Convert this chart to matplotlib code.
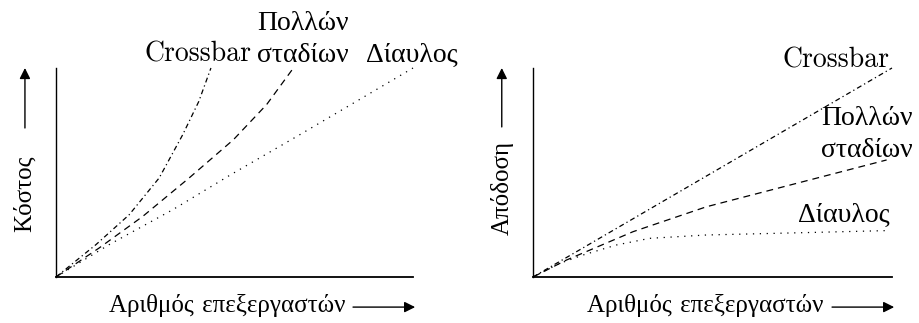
import matplotlib
matplotlib.use('Agg')
import matplotlib.pyplot as plt

plt.rcParams['font.family'] = ['cmr10', 'Liberation Serif']
plt.rcParams['axes.unicode_minus'] = False

# (axes run 0..1 in both directions)
cost_x = {
    'Crossbar': [0, 0.112, 0.205, 0.289, 0.355, 0.40, 0.434],
    'Πολλών\nσταδίων': [0, 0.121, 0.243, 0.373, 0.497, 0.590, 0.665],
    'Δίαυλος': [0, 0.149, 0.327, 0.490, 0.683, 1.0],
}
cost_y = {
    'Crossbar': [0, 0.155, 0.298, 0.474, 0.681, 0.84, 1.0],
    'Πολλών\nσταδίων': [0, 0.139, 0.290, 0.474, 0.657, 0.825, 1.0],
    'Δίαυλος': [0, 0.155, 0.322, 0.490, 0.681, 1.0],
}
perf_x = {
    'Crossbar': [0, 0.5, 1.0],
    'Πολλών\nσταδίων': [0, 0.093, 0.279, 0.483, 0.734, 0.985],
    'Δίαυλος': [0, 0.074, 0.139, 0.232, 0.325, 0.483, 0.75, 0.985],
}
perf_y = {
    'Crossbar': [0, 0.5, 1.0],
    'Πολλών\nσταδίων': [0, 0.081, 0.217, 0.336, 0.448, 0.56],
    'Δίαυλος': [0, 0.065, 0.105, 0.153, 0.185, 0.201, 0.212, 0.222],
}

styles = {
    'Crossbar': (0, (4, 2.5, 1, 2.5)),
    'Πολλών\nσταδίων': (0, (5.5, 4)),
    'Δίαυλος': (0, (1, 4.5)),
}

FS = 18      # axis titles
LFS = 20     # curve labels

fig = plt.figure(figsize=(9.19, 3.23), dpi=100)
ax1 = fig.add_axes([56/919, 46/323, 357/919, 209/323])
ax2 = fig.add_axes([533/919, 46/323, 359/919, 209/323])

for ax in (ax1, ax2):
    ax.set_xlim(0, 1)
    ax.set_ylim(0, 1)
    ax.spines['top'].set_visible(False)
    ax.spines['right'].set_visible(False)
    ax.spines['left'].set_linewidth(1.0)
    ax.spines['bottom'].set_linewidth(1.3)
    ax.set_xticks([])
    ax.set_yticks([])

for name in cost_x:
    ax1.plot(cost_x[name], cost_y[name], color='black', lw=0.9,
             linestyle=styles[name], clip_on=False)
    ax2.plot(perf_x[name], perf_y[name], color='black', lw=0.9,
             linestyle=styles[name], clip_on=False)

# curve labels
ax1.text(0.398, 1.029, 'Crossbar', fontsize=LFS, ha='center', va='baseline')
ax1.text(0.692, 1.029, 'Πολλών\nσταδίων', fontsize=LFS, ha='center',
         va='baseline', multialignment='center', linespacing=1.3)
ax1.text(0.997, 1.029, 'Δίαυλος', fontsize=LFS, ha='center', va='baseline')

ax2.text(0.994, 1.0, 'Crossbar', fontsize=LFS, ha='right', va='baseline')
ax2.text(1.058, 0.574, 'Πολλών\nσταδίων', fontsize=LFS, ha='right',
         va='baseline', multialignment='center', linespacing=1.3)
ax2.text(0.994, 0.263, 'Δίαυλος', fontsize=LFS, ha='right', va='baseline')

# axis titles with arrows
arrow = dict(arrowstyle='-|>', color='black', lw=1.0, mutation_scale=16,
             shrinkA=0, shrinkB=0)

for ax, ylab, ytxt, yarr, xtxt, xarr in [
        (ax1, 'Κόστος', 0.215, 0.713, 0.81, 0.832),
        (ax2, 'Απόδοση', 0.201, 0.718, 0.808, 0.833)]:
    ax.text(-0.087, ytxt, ylab, fontsize=FS, rotation=90, ha='center',
            va='bottom', transform=ax.transAxes)
    ax.annotate('', xy=(-0.087, 1.0), xytext=(-0.087, yarr),
                xycoords='axes fraction', textcoords='axes fraction',
                arrowprops=arrow)
    ax.text(xtxt, -0.134, 'Αριθμός επεξεργαστών', fontsize=FS, ha='right',
            va='center', transform=ax.transAxes)
    ax.annotate('', xy=(1.006, -0.144), xytext=(xarr, -0.144),
                xycoords='axes fraction', textcoords='axes fraction',
                arrowprops=arrow)

fig.savefig('out.png', dpi=100)
